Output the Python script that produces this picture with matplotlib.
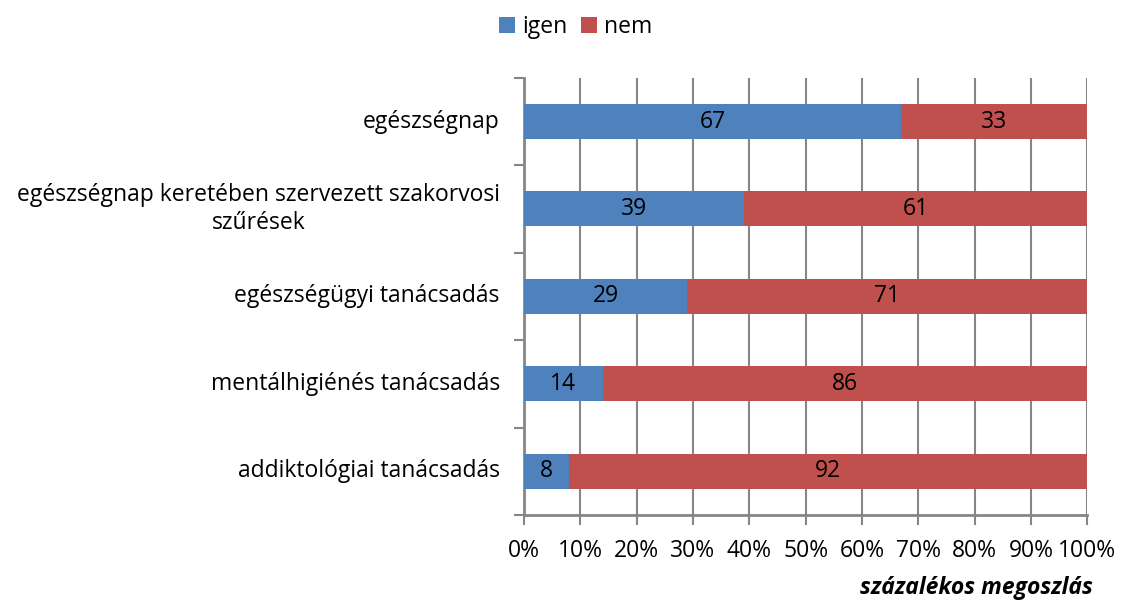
import matplotlib
matplotlib.use("Agg")
import matplotlib.pyplot as plt
import numpy as np

plt.rcParams['font.family'] = ['Open Sans', 'DejaVu Sans']

categories = [
    "egészségnap",
    "egészségnap keretében szervezett szakorvosi\nszűrések",
    "egészségügyi tanácsadás",
    "mentálhigiénés tanácsadás",
    "addiktológiai tanácsadás",
]
igen = [67, 39, 29, 14, 8]
nem = [33, 61, 71, 86, 92]

blue = '#4F81BD'
red = '#C0504D'
grey = '#868686'
fs = 16.5

fig = plt.figure(figsize=(11.22, 6.03), dpi=100)
ax = fig.add_axes([0.467, 0.146, 0.502, 0.725])

y = np.arange(len(categories))[::-1]
b1 = ax.barh(y, igen, height=0.4, color=blue, label='igen', zorder=3)
b2 = ax.barh(y, nem, left=igen, height=0.4, color=red, label='nem', zorder=3)

for yi, a, b in zip(y, igen, nem):
    ax.text(a / 2, yi, str(a), ha='center', va='center', fontsize=fs, zorder=4)
    ax.text(a + b / 2, yi, str(b), ha='center', va='center', fontsize=fs, zorder=4)

ax.set_xlim(0, 100)
ax.set_ylim(-0.5, len(categories) - 0.5)
ax.set_xticks(np.arange(0, 101, 10))
ax.set_xticklabels([f"{v}%" for v in range(0, 101, 10)], fontsize=fs)

# category labels as plain texts so the two-line one can be centred
ax.set_yticks([])
for yi, cat in zip(y, categories):
    ax.text(-0.043, yi, cat, transform=ax.get_yaxis_transform(), ha='right',
            va='center', multialignment='center', fontsize=fs)
ax.set_yticks(np.arange(-0.5, len(categories), 1), minor=True)
ax.tick_params(axis='y', which='minor', length=7, width=1.5, color=grey)
ax.tick_params(axis='x', length=7, width=1.5, color=grey, pad=10)

ax.grid(axis='x', color=grey, linewidth=1.5, zorder=0)
for s in ['top', 'right']:
    ax.spines[s].set_visible(False)
for s in ['left', 'bottom']:
    ax.spines[s].set_color(grey)
    ax.spines[s].set_linewidth(2)

ax.set_xlabel("százalékos megoszlás", fontsize=fs, fontweight='bold',
              fontstyle='italic', loc='right', labelpad=10)
ax.xaxis.label.set_x(1.01)

fig.legend(handles=[b1, b2], labels=['igen', 'nem'], loc='upper center',
           bbox_to_anchor=(0.513, 1.01), ncol=2, frameon=False, fontsize=fs,
           handlelength=0.7, handleheight=0.7, handletextpad=0.3, columnspacing=0.6)

fig.savefig("out.png", dpi=100)
